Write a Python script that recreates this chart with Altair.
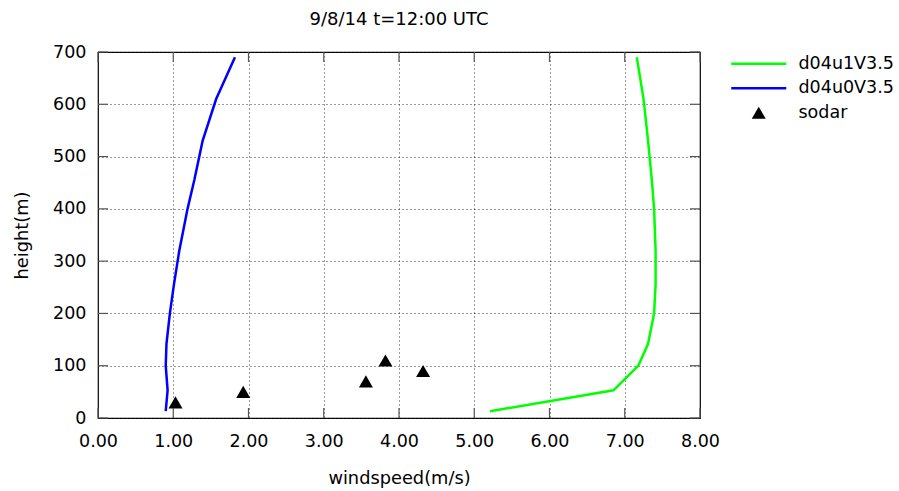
import altair as alt
import pandas as pd

# ---- data ----
model_heights = [13, 53, 100, 142, 200, 256, 320, 400, 455, 530, 610, 690]
u1_speed = [5.21, 6.85, 7.18, 7.31, 7.39, 7.41, 7.41, 7.39, 7.36, 7.31, 7.25, 7.16]
u0_speed = [0.90, 0.925, 0.90, 0.91, 0.955, 1.01, 1.08, 1.19, 1.28, 1.39, 1.57, 1.82]
sodar_heights = [30, 50, 70, 90, 110]
sodar_speed = [1.03, 1.93, 3.56, 4.32, 3.82]

series_names = ["d04u1V3.5", "d04u0V3.5", "sodar"]
series_colors = ["#00ff00", "#0000ff", "#000000"]

x_ticks = [0, 1, 2, 3, 4, 5, 6, 7, 8]
y_ticks = [0, 100, 200, 300, 400, 500, 600, 700]

W, H = 602, 366
FONT = "DejaVu Sans"

lines_df = pd.DataFrame(
    {
        "series": [series_names[0]] * len(model_heights) + [series_names[1]] * len(model_heights),
        "windspeed": u1_speed + u0_speed,
        "height": model_heights + model_heights,
    }
)
sodar_df = pd.DataFrame(
    {"series": [series_names[2]] * len(sodar_heights), "windspeed": sodar_speed, "height": sodar_heights}
)
xt_df = pd.DataFrame({"v": x_ticks})
yt_df = pd.DataFrame({"v": y_ticks})

xscale = alt.Scale(domain=[0, 8], nice=False, zero=False)
yscale = alt.Scale(domain=[0, 700], nice=False, zero=False)
cscale = alt.Scale(domain=series_names, range=series_colors)

line_sym = "M-3.93,-0.18L3.93,-0.18L3.93,0.18L-3.93,0.18Z"
sscale = alt.Scale(domain=series_names, range=[line_sym, line_sym, "triangle-up"])

common_axis = dict(
    grid=True,
    gridDash=[1, 3],
    gridColor="#222",
    tickSize=0,
    labelFlush=False,
    labelOverlap=False,
    labelFont=FONT,
    labelFontSize=17.5,
    labelColor="#000",
    titleFont=FONT,
    titleFontSize=17.8,
    titleFontWeight="normal",
    titleColor="#000",
    domain=False,
    titleBaseline="middle",
)

x_axis = alt.Axis(
    values=x_ticks,
    format=".2f",
    title="windspeed(m/s)",
    labelPadding=14,
    titleY=60,
    **common_axis,
)
y_axis = alt.Axis(
    values=y_ticks,
    title="height(m)",
    labelPadding=12,
    titleX=-76,
    titleY=H / 2,
    **common_axis,
)

points = (
    alt.Chart(sodar_df)
    .mark_point(filled=True, opacity=1, size=196)
    .encode(
        x=alt.X("windspeed:Q", scale=xscale, axis=x_axis),
        y=alt.Y("height:Q", scale=yscale, axis=y_axis),
        color=alt.Color("series:N", scale=cscale, legend=alt.Legend(title=None)),
        shape=alt.Shape("series:N", scale=sscale, legend=alt.Legend(title=None)),
    )
)

lines = (
    alt.Chart(lines_df)
    .mark_line(strokeWidth=2.5, clip=True)
    .encode(
        x=alt.X("windspeed:Q"),
        y=alt.Y("height:Q"),
        color=alt.Color("series:N"),
        order="height:Q",
    )
)

tick_color = "#555"
xticks_bottom = alt.Chart(xt_df).mark_rule(color=tick_color, strokeWidth=1.2).encode(
    x=alt.X("v:Q"), y=alt.value(H), y2=alt.value(H - 10)
)
xticks_top = alt.Chart(xt_df).mark_rule(color=tick_color, strokeWidth=1.2).encode(
    x=alt.X("v:Q"), y=alt.value(0), y2=alt.value(10)
)
yticks_left = alt.Chart(yt_df).mark_rule(color=tick_color, strokeWidth=1.2).encode(
    y=alt.Y("v:Q"), x=alt.value(0), x2=alt.value(10)
)
yticks_right = alt.Chart(yt_df).mark_rule(color=tick_color, strokeWidth=1.2).encode(
    y=alt.Y("v:Q"), x=alt.value(W), x2=alt.value(W - 10)
)

chart = (
    alt.layer(points, lines, xticks_bottom, xticks_top, yticks_left, yticks_right)
    .properties(
        width=W,
        height=H,
        title=alt.TitleParams(
            "9/8/14 t=12:00 UTC",
            fontSize=18,
            fontWeight="normal",
            anchor="middle",
            baseline="alphabetic",
            offset=0,
            color="#000",
            font=FONT,
        ),
        autosize=alt.AutoSizeParams(type="none"),
        padding={"left": 98, "top": 52, "right": 199, "bottom": 73},
    )
    .configure(font=FONT, background="white")
    .configure_view(stroke="#000", strokeWidth=1.2)
    .configure_axis(gridOpacity=0.9)
    .configure_legend(
        orient="none",
        legendX=652,
        legendY=3,
        padding=0,
        labelFont=FONT,
        labelFontSize=17.5,
        labelColor="#000",
        labelOffset=31,
        rowPadding=5.5,
        symbolSize=196,
        symbolStrokeWidth=0,
        symbolOpacity=1,
    )
)

chart.save("out.html", embed_options={"renderer": "svg", "actions": False})
